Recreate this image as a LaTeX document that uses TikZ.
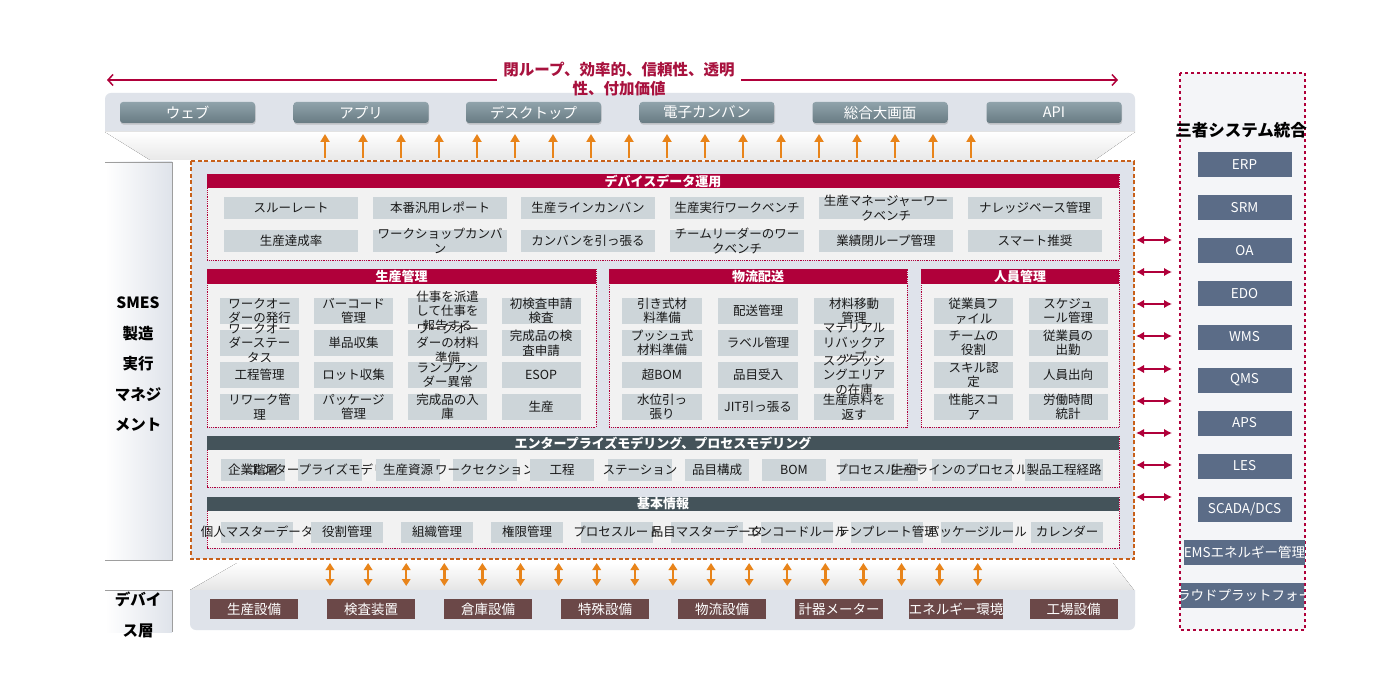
\documentclass[tikz,border=0pt]{standalone}
\usepackage{fontspec}
\setmainfont{Noto Sans CJK JP}
\usetikzlibrary{arrows.meta,shadows}
\definecolor{crim}{HTML}{B0003A}
\definecolor{slatehd}{HTML}{44535A}
\definecolor{igray}{HTML}{CDD5D9}
\definecolor{secbg}{HTML}{F2F2F2}
\definecolor{mainbg}{HTML}{DFE3EB}
\definecolor{bandc}{HTML}{DFE3EA}
\definecolor{orng}{HTML}{E8841A}
\definecolor{dorng}{HTML}{C8601A}
\definecolor{sysblue}{HTML}{5B6C87}
\definecolor{devbrown}{HTML}{6B4848}
\definecolor{btntop}{HTML}{90A3AB}
\definecolor{btnbot}{HTML}{687B83}
\definecolor{ttlred}{HTML}{A8123E}
\definecolor{panelbg}{HTML}{F4F5F8}
\newcommand\itm[6]{%
  \node[ibox,minimum width=#4pt,minimum height=#5pt] (#1) at (#2,#3) {};
  \node[itxt] (#1t) at (#1.center) {#6};}
\newcommand\sect[8]{%
  \draw[secbox] (#2,#3) rectangle (#4,#5);
  \fill[#7] (#2,#3) rectangle (#4,#6);
  \node[hdr] (#1) at ({(#2+#4)/2},{(#3+#6)/2}) {#8};}
\begin{document}
\begin{tikzpicture}[x=1pt,y=-1pt,
  ibox/.style={fill=igray,draw=none,inner sep=0pt,outer sep=0pt},
  itxt/.style={font=\fontsize{12.5}{14.5}\selectfont,align=center,inner sep=0pt,text=black!90},
  hdr/.style={inner sep=0pt,text=white,font=\fontsize{13}{14}\bfseries\selectfont},
  secbox/.style={draw=crim,densely dotted,line width=0.8pt,fill=secbg},
  btn/.style={rounded corners=3pt,top color=btntop,bottom color=btnbot,minimum width=135pt,minimum height=21pt,text=white,font=\fontsize{14.5}{16}\selectfont,inner sep=0pt,drop shadow={shadow xshift=0.6pt,shadow yshift=-1.6pt,opacity=0.35}},
  sysbox/.style={fill=sysblue,minimum width=94pt,minimum height=25pt,inner sep=0pt,text=white,font=\fontsize{13.5}{15}\selectfont},
  devbox/.style={fill=devbrown,minimum width=88pt,minimum height=20pt,inner sep=0pt,text=white,font=\fontsize{13.5}{15}\selectfont},
  uparr/.style={draw=orng,line width=2.4pt,-{Triangle[width=9pt,length=8pt]}},
  duparr/.style={draw=orng,line width=2.4pt,{Triangle[width=8.5pt,length=7pt]}-{Triangle[width=8.5pt,length=7pt]}},
  rarr/.style={draw=crim,line width=1.7pt,{Latex[width=8.5pt,length=8pt]}-{Latex[width=8.5pt,length=8pt]}},
  tarr/.style={draw=crim,line width=1.5pt},
  ttl/.style={text=ttlred,align=center,font=\fontsize{15.5}{19}\bfseries\selectfont,inner sep=0pt},
  lbl/.style={font=\fontsize{15.5}{30.5}\bfseries\selectfont,align=center,text=black,inner sep=0pt}
]
\useasboundingbox[fill=white] (0,0) rectangle (1380,700);

% ---------- top title arrow ----------
\coordinate (tl) at (107,80); \coordinate (tlg) at (497,80);
\coordinate (trg) at (741,80); \coordinate (tr) at (1118,80);
\draw[tarr,{Straight Barb[length=5pt,width=11pt]}-] (tl) -- (tlg);
\draw[tarr,-{Straight Barb[length=5pt,width=11pt]}] (trg) -- (tr);

% ---------- top band ----------
\fill[top color=white,bottom color=black!9] (105,132) -- (1135,132) -- (1095,160) -- (150,160) -- cycle;
\fill[bandc] (105,131) {[rounded corners=6pt] -- (105,93) -- (1135,93)} -- (1135,131) -- cycle;
\node[ttl] (title) at (619,79.5) {閉ループ、効率的、信頼性、透明\\性、付加価値};
\node[btn] (b1) at (187.5,112.5) {ウェブ};
\node[btn] (b2) at (361,112.5) {アプリ};
\node[btn] (b3) at (533.5,112.5) {デスクトップ};
\node[btn] (b4) at (707,112.5) {電子カンバン};
\node[btn] (b5) at (880,112.5) {総合大画面};
\node[btn] (b6) at (1054,112.5) {API};
\foreach \i in {0,...,17} {
  \coordinate (ua\i) at ({325+38*\i},158);
  \coordinate (ub\i) at ({325+38*\i},134);
  \draw[uparr] (ua\i) -- (ub\i);
}

% ---------- left label ----------
\fill[left color=white,right color=bandc] (105,162) rectangle (172,560);
\draw[black!38,line width=0.8pt] (105,162) -- (172,162) -- (172,560) -- (105,560);
\node[lbl] (smes) at (138,364.5) {SMES\\製造\\実行\\マネジ\\メント};

% ---------- main box ----------
\draw[draw=dorng,dash pattern=on 4pt off 2.5pt,line width=1.5pt,fill=mainbg] (191,161) rectangle (1134,559);

% device data
\sect{hdev}{207}{174}{1119}{260}{188}{crim}{デバイスデータ運用}
\itm{d11}{291}{208}{134}{22}{スルーレート}
\itm{d12}{440}{208}{134}{22}{本番汎用レポート}
\itm{d13}{588}{208}{134}{22}{生産ラインカンバン}
\itm{d14}{737}{208}{134}{22}{生産実行ワークベンチ}
\itm{d15}{886}{208}{134}{22}{生産マネージャーワー\\クベンチ}
\itm{d16}{1035}{208}{134}{22}{ナレッジベース管理}
\itm{d21}{291}{241}{134}{22}{生産達成率}
\itm{d22}{440}{241}{134}{22}{ワークショップカンバ\\ン}
\itm{d23}{588}{241}{134}{22}{カンバンを引っ張る}
\itm{d24}{737}{241}{134}{22}{チームリーダーのワー\\クベンチ}
\itm{d25}{886}{241}{134}{22}{業績閉ループ管理}
\itm{d26}{1035}{241}{134}{22}{スマート推奨}

% production management
\sect{hprod}{207}{269}{596}{427}{284}{crim}{生産管理}
\itm{p11}{259.5}{311}{79}{26}{ワークオー\\ダーの発行}
\itm{p12}{353.5}{311}{79}{26}{バーコード\\管理}
\itm{p13}{447.5}{311}{79}{26}{仕事を派遣\\して仕事を\\報告する}
\itm{p14}{541}{311}{79}{26}{初検査申請\\検査}
\itm{p21}{259.5}{343}{79}{26}{ワークオー\\ダーステー\\タス}
\itm{p22}{353.5}{343}{79}{26}{単品収集}
\itm{p23}{447.5}{343}{79}{26}{ワークオー\\ダーの材料\\準備}
\itm{p24}{541}{343}{79}{26}{完成品の検\\査申請}
\itm{p31}{259.5}{375}{79}{26}{工程管理}
\itm{p32}{353.5}{375}{79}{26}{ロット収集}
\itm{p33}{447.5}{375}{79}{26}{ランプアン\\ダー異常}
\itm{p34}{541}{375}{79}{26}{ESOP}
\itm{p41}{259.5}{407}{79}{26}{リワーク管\\理}
\itm{p42}{353.5}{407}{79}{26}{パッケージ\\管理}
\itm{p43}{447.5}{407}{79}{26}{完成品の入\\庫}
\itm{p44}{541}{407}{79}{26}{生産}

% logistics
\sect{hlog}{609}{269}{907}{427}{284}{crim}{物流配送}
\itm{l11}{662}{311}{80}{26}{引き式材\\料準備}
\itm{l12}{758}{311}{80}{26}{配送管理}
\itm{l13}{854}{311}{80}{26}{材料移動\\管理}
\itm{l21}{662}{343}{80}{26}{プッシュ式\\材料準備}
\itm{l22}{758}{343}{80}{26}{ラベル管理}
\itm{l23}{854}{343}{80}{26}{マテリアル\\リバックア\\ップ}
\itm{l31}{662}{375}{80}{26}{超BOM}
\itm{l32}{758}{375}{80}{26}{品目受入}
\itm{l33}{854}{375}{80}{26}{スクラッシ\\ングエリア\\の在庫}
\itm{l41}{662}{407}{80}{26}{水位引っ\\張り}
\itm{l42}{758}{407}{80}{26}{JIT引っ張る}
\itm{l43}{854}{407}{80}{26}{生産原料を\\返す}

% personnel
\sect{hper}{921}{269}{1119}{427}{284}{crim}{人員管理}
\itm{h11}{973.5}{311}{79}{26}{従業員フ\\ァイル}
\itm{h12}{1068}{311}{79}{26}{スケジュ\\ール管理}
\itm{h21}{973.5}{343}{79}{26}{チームの\\役割}
\itm{h22}{1068}{343}{79}{26}{従業員の\\出勤}
\itm{h31}{973.5}{375}{79}{26}{スキル認\\定}
\itm{h32}{1068}{375}{79}{26}{人員出向}
\itm{h41}{973.5}{407}{79}{26}{性能スコ\\ア}
\itm{h42}{1068}{407}{79}{26}{労働時間\\統計}

% modeling
\sect{hmod}{207}{436}{1119}{487}{450}{slatehd}{エンタープライズモデリング、プロセスモデリング}
\itm{m1}{253}{470}{64}{22}{企業階層}
\itm{m2}{330}{470}{64}{22}{エンタープライズモデリング}
\itm{m3}{408}{470}{64}{22}{生産資源}
\itm{m4}{485}{470}{64}{22}{ワークセクション}
\itm{m5}{562}{470}{64}{22}{工程}
\itm{m6}{640}{470}{64}{22}{ステーション}
\itm{m7}{717}{470}{64}{22}{品目構成}
\itm{m8}{794}{470}{64}{22}{BOM}
\itm{m9}{879}{470}{78}{22}{プロセスルート}
\itm{m10}{972}{470}{80}{22}{生産ラインのプロセスルート}
\itm{m11}{1064}{470}{78}{22}{製品工程経路}

% basic info
\sect{hbas}{207}{497}{1119}{548}{511}{slatehd}{基本情報}
\itm{n1}{257}{532}{72}{21}{個人マスターデータ}
\itm{n2}{347}{532}{72}{21}{役割管理}
\itm{n3}{437}{532}{72}{21}{組織管理}
\itm{n4}{527}{532}{72}{21}{権限管理}
\itm{n5}{617}{532}{72}{21}{プロセスルート}
\itm{n6}{707}{532}{72}{21}{品目マスターデータ}
\itm{n7}{797}{532}{72}{21}{エンコードルール}
\itm{n8}{887}{532}{72}{21}{テンプレート管理}
\itm{n9}{977}{532}{72}{21}{パッケージルール}
\itm{n10}{1067}{532}{72}{21}{カレンダー}

% ---------- device layer ----------
\fill[top color=white,bottom color=black!10] (237,563) -- (1113,563) -- (1134,590) -- (190,590) -- cycle;
\fill[bandc] (190,590) {[rounded corners=6pt] -- (190,630) -- (1135,630)} -- (1135,590) -- cycle;
\fill[left color=white,right color=bandc] (105,590) rectangle (172,632);
\draw[black!38,line width=0.8pt] (105,590) -- (172,590) -- (172,632);
\node[lbl] (devl) at (138,615) {デバイ\\ス層};
\node[devbox] (dv1) at (254,609) {生産設備};
\node[devbox] (dv2) at (371,609) {検査装置};
\node[devbox] (dv3) at (488,609) {倉庫設備};
\node[devbox] (dv4) at (605,609) {特殊設備};
\node[devbox] (dv5) at (722,609) {物流設備};
\node[devbox] (dv6) at (839,609) {計器メーター};
\node[devbox] (dv7) at (956,609) {エネルギー環境};
\node[devbox] (dv8) at (1073.5,609) {工場設備};
\foreach \i in {0,...,17} {
  \coordinate (da\i) at ({330+38.1*\i},563);
  \coordinate (db\i) at ({330+38.1*\i},586);
  \draw[duparr] (da\i) -- (db\i);
}

% ---------- right panel ----------
\draw[crim,dashed,line width=1.3pt,fill=panelbg] (1180,73) rectangle (1305,630);
\node[font=\fontsize{16.5}{18}\bfseries\selectfont,inner sep=0pt] (sysT) at (1241,130) {三者システム統合};
\node[sysbox] (s1) at (1244.5,165) {ERP};
\node[sysbox] (s2) at (1244.5,208) {SRM};
\node[sysbox] (s3) at (1244.5,251) {OA};
\node[sysbox] (s4) at (1244.5,294) {EDO};
\node[sysbox] (s5) at (1244.5,337) {WMS};
\node[sysbox] (s6) at (1244.5,380) {QMS};
\node[sysbox] (s7) at (1244.5,423) {APS};
\node[sysbox] (s8) at (1244.5,466) {LES};
\node[sysbox] (s9) at (1244.5,509) {SCADA/DCS};
\node[sysbox] (s10) at (1244.5,552) {EMSエネルギー管理};
\begin{scope}
\clip (1181,73) rectangle (1304,630);
\node[sysbox] (s11) at (1244.5,595) {クラウドプラットフォーム};
\end{scope}
\foreach \y [count=\k] in {240,272,304,336,369,401,433,465,497} {
  \coordinate (ra\k) at (1136,\y);
  \coordinate (rb\k) at (1172,\y);
  \draw[rarr] (ra\k) -- (rb\k);
}
\end{tikzpicture}
\end{document}
